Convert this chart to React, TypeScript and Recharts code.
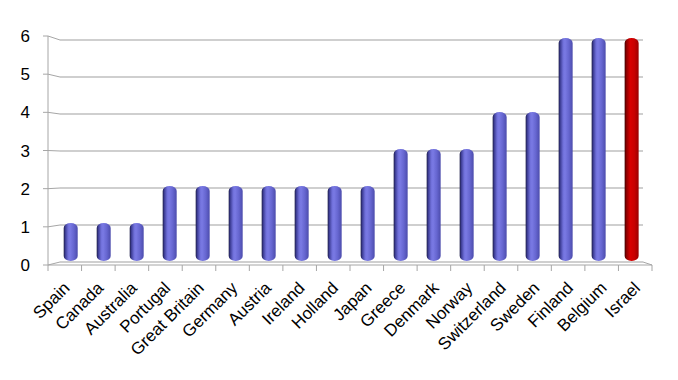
import { BarChart, Bar, XAxis, YAxis, CartesianGrid, Cell } from "recharts";

const countries = [
  "Spain", "Canada", "Australia", "Portugal", "Great Britain", "Germany",
  "Austria", "Ireland", "Holland", "Japan", "Greece", "Denmark", "Norway",
  "Switzerland", "Sweden", "Finland", "Belgium", "Israel",
];
const scores = [1, 1, 1, 2, 2, 2, 2, 2, 2, 2, 3, 3, 3, 4, 4, 6, 6, 6];
const yTicks = [0, 1, 2, 3, 4, 5, 6];
const highlight = "Israel";

const data = countries.map((country, i) => ({ country, score: scores[i] }));

const W = 678;
const H = 380;
const PLOT_LEFT = 48;
const PLOT_RIGHT = 652;
const STEP = (PLOT_RIGHT - PLOT_LEFT) / countries.length;
const AXIS = "#a6a6a6";
const GRID = "#bfbfbf";
const FONT = "'Liberation Sans', Arial, sans-serif";

// front face of the 3d box is a bit taller than the back wall
const front = (y: number) => 265 - (262 - y) * (229 / 222);

const YTick = (props: any) => {
  const { y, payload, index } = props;
  const fy = front(y);
  return (
    <g>
      {index === 0 && (
        <line x1={PLOT_LEFT} x2={PLOT_LEFT} y1={265} y2={36} stroke={AXIS} />
      )}
      <line x1={PLOT_LEFT - 5} x2={PLOT_LEFT} y1={fy} y2={fy} stroke={AXIS} />
      <line x1={PLOT_LEFT} x2={PLOT_LEFT + 12} y1={fy} y2={y} stroke={AXIS} />
      <text x={30} y={fy + 6} textAnchor="end" fontSize={17} fontFamily={FONT} fill="#000">
        {payload.value}
      </text>
    </g>
  );
};

const XTick = (props: any) => {
  const { x, payload, index } = props;
  const last = index === countries.length - 1;
  const ay = 265;
  return (
    <g>
      <line x1={x - STEP / 2} x2={x + STEP / 2} y1={ay} y2={ay} stroke={AXIS} />
      <line x1={x - STEP / 2} x2={x - STEP / 2} y1={ay} y2={ay + 6} stroke={AXIS} />
      {last && (
        <>
          <line x1={x + STEP / 2} x2={x + STEP / 2} y1={ay} y2={ay + 6} stroke={AXIS} />
          <line x1={x + STEP / 2} x2={x + STEP / 2 - 9} y1={ay} y2={262} stroke={AXIS} />
        </>
      )}
      <g transform={`translate(${x + 6},${ay + 24})`}>
        <g transform="rotate(-45)">
          <text x={0} y={0} textAnchor="end" fontSize={17} fontFamily={FONT} fill="#000">
            {payload.value}
          </text>
        </g>
      </g>
    </g>
  );
};

// bars sit on the back of the floor, so their spacing is slightly narrower
const Cylinder = (props: any) => {
  const { x, y, width, height, payload } = props;
  const id = payload.country === highlight ? "cylRed" : "cylBlue";
  const c = x + width / 2;
  const t = (c - (PLOT_LEFT + STEP / 2)) / (PLOT_RIGHT - PLOT_LEFT - STEP);
  const dx = 5.7 - 9.5 * t;
  return (
    <rect
      x={x + dx}
      y={y - 2}
      width={width}
      height={height + 1}
      rx={width / 2}
      ry={5}
      fill={`url(#${id})`}
    />
  );
};

export default function App() {
  return (
    <div style={{ width: W, height: H, margin: -8, background: "#fff" }}>
      <BarChart
        width={W}
        height={H}
        data={data}
        margin={{ top: 40, right: W - PLOT_RIGHT, left: 0, bottom: 0 }}
        barSize={14}
      >
        <defs>
          <linearGradient id="cylBlue" x1="0" y1="0" x2="1" y2="0">
            <stop offset="0%" stopColor="#1c1c48" />
            <stop offset="12%" stopColor="#3e3e96" />
            <stop offset="32%" stopColor="#7070da" />
            <stop offset="45%" stopColor="#7a7ae4" />
            <stop offset="72%" stopColor="#6666d0" />
            <stop offset="100%" stopColor="#4c4cac" />
          </linearGradient>
          <linearGradient id="cylRed" x1="0" y1="0" x2="1" y2="0">
            <stop offset="0%" stopColor="#400000" />
            <stop offset="14%" stopColor="#900000" />
            <stop offset="40%" stopColor="#d80000" />
            <stop offset="70%" stopColor="#c80000" />
            <stop offset="100%" stopColor="#9a0000" />
          </linearGradient>
        </defs>
        <CartesianGrid
          vertical={false}
          horizontal={(p: any) => (
            <line
              key={p.key}
              x1={p.x1 + 12}
              x2={p.x2 - 9}
              y1={p.y1}
              y2={p.y2}
              stroke={GRID}
              strokeWidth={1.5}
            />
          )}
        />
        <XAxis
          dataKey="country"
          interval={0}
          height={118}
          axisLine={false}
          tickLine={false}
          tick={<XTick />}
        />
        <YAxis
          domain={[0, 6]}
          ticks={yTicks}
          width={PLOT_LEFT}
          axisLine={false}
          tickLine={false}
          tick={<YTick />}
        />
        <Bar dataKey="score" shape={<Cylinder />} isAnimationActive={false}>
          {data.map((d) => (
            <Cell key={d.country} />
          ))}
        </Bar>
      </BarChart>
    </div>
  );
}
